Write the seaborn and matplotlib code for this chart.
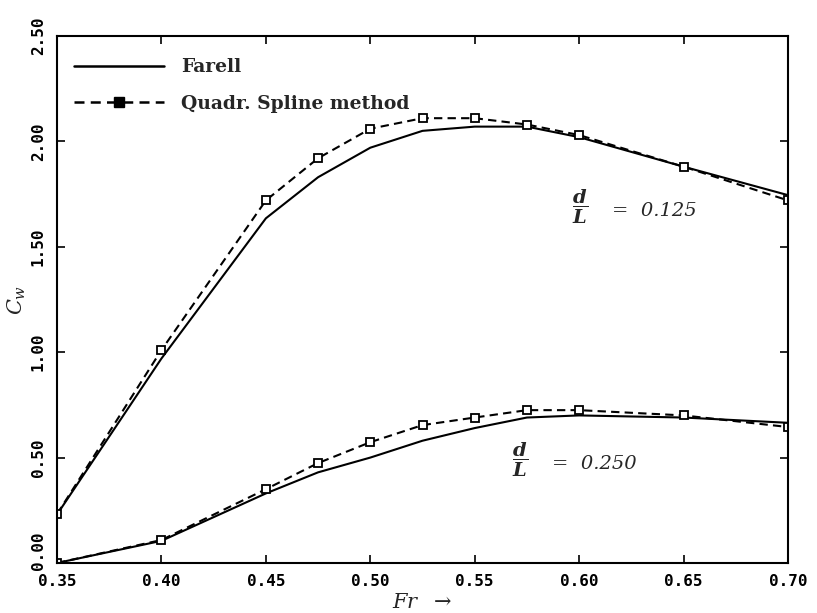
import pandas as pd
import matplotlib
matplotlib.use('Agg')
import matplotlib.pyplot as plt
import matplotlib.transforms as mtransforms
from matplotlib.lines import Line2D
import seaborn as sns

# 数据
fr = [0.35, 0.40, 0.45, 0.475, 0.50, 0.525, 0.55, 0.575, 0.60, 0.65, 0.70]
farell_0125 = [0.23, 0.97, 1.635, 1.83, 1.97, 2.05, 2.07, 2.07, 2.02, 1.88, 1.745]
spline_0125 = [0.232, 1.01, 1.72, 1.92, 2.06, 2.11, 2.11, 2.08, 2.03, 1.88, 1.72]
farell_0250 = [0.0, 0.105, 0.33, 0.43, 0.50, 0.58, 0.64, 0.69, 0.70, 0.69, 0.665]
spline_0250 = [0.0, 0.109, 0.35, 0.474, 0.573, 0.654, 0.69, 0.725, 0.725, 0.70, 0.645]

x_ticks = [0.35, 0.40, 0.45, 0.50, 0.55, 0.60, 0.65, 0.70]
y_ticks = [0.0, 0.5, 1.0, 1.5, 2.0, 2.5]
legend_labels = ['Farell', 'Quadr. Spline method']

sns.set_theme(style='ticks')
plt.rcParams['font.family'] = ['DejaVu Sans']
plt.rcParams['mathtext.fontset'] = 'custom'
plt.rcParams['mathtext.rm'] = 'DejaVu Serif'
plt.rcParams['mathtext.it'] = 'DejaVu Serif:italic'
plt.rcParams['mathtext.bf'] = 'DejaVu Serif:bold:italic'
plt.rcParams['axes.linewidth'] = 1.5


def make_df(values_a, values_b):
    rows = []
    for case, vals in (('0.125', values_a), ('0.250', values_b)):
        for x, y in zip(fr, vals):
            rows.append({'Fr': x, 'Cw': y, 'case': case})
    return pd.DataFrame(rows)


df_farell = make_df(farell_0125, farell_0250)
df_spline = make_df(spline_0125, spline_0250)

fig = plt.figure(figsize=(8.17, 6.13), dpi=100)
ax = fig.add_axes([0.0698, 0.0816, 0.8947, 0.8597])

sns.lineplot(data=df_farell, x='Fr', y='Cw', units='case', estimator=None,
             color='black', linewidth=1.5, ax=ax, legend=False)
sns.lineplot(data=df_spline, x='Fr', y='Cw', units='case', estimator=None,
             color='black', linewidth=1.5, dashes=False, ax=ax, legend=False,
             marker='s', markersize=6, markerfacecolor='white',
             markeredgecolor='black', markeredgewidth=1.3)
# 虚线样式
for line in ax.lines[2:]:
    line.set_dashes((4, 2.5))

ax.set_xlim(0.35, 0.70)
ax.set_ylim(0.0, 2.5)
ax.set_xticks(x_ticks)
ax.set_yticks(y_ticks)
ax.set_xticklabels([f'{v:.2f}' for v in x_ticks], family='DejaVu Sans Mono',
                   fontweight='bold', fontsize=11.5)
ax.set_yticklabels([f'{v:.2f}' for v in y_ticks], family='DejaVu Sans Mono',
                   fontweight='bold', fontsize=11.5, rotation=90, va='center')
ax.tick_params(direction='in', length=6, width=1.2, top=True, right=True,
               labeltop=False, labelright=False, pad=8, colors='black')
for s in ax.spines.values():
    s.set_color('black')

# 0.00 标签稍微上移，避免与 0.35 重叠
lab0 = ax.get_yticklabels()[0]
lab0.set_transform(lab0.get_transform() + mtransforms.ScaledTranslation(0, 12 / 100, fig.dpi_scale_trans))

ax.set_xlabel(r'$Fr\ \ \rightarrow$', fontsize=15, labelpad=2)
ax.set_ylabel(r'$C_w$', fontsize=15, labelpad=2)

# d/L 标注
for x0, y0, txt in ((0.5966, 1.69, '0.125'), (0.568, 0.49, '0.250')):
    ax.text(x0, y0, r'$\dfrac{\mathbf{d}}{\mathbf{L}}$', fontsize=14, ha='left', va='center')
    ax.text(x0 + 0.019, y0 - 0.02, '=  ' + txt, fontsize=14, ha='left', va='center',
            family='DejaVu Serif', style='italic')

handles = [
    Line2D([], [], color='black', linewidth=1.8),
    Line2D([], [], color='black', linewidth=1.8, dashes=(4, 2.5),
           marker='s', markersize=7, markerfacecolor='black', markeredgecolor='black'),
]
ax.legend(handles, legend_labels, loc='upper left', frameon=False,
          handlelength=4.8, handletextpad=0.9, labelspacing=1.0,
          bbox_to_anchor=(0.0, 0.99), borderaxespad=0.5,
          markerfirst=True, numpoints=1,
          prop={'family': 'DejaVu Serif', 'weight': 'bold', 'size': 13.5})

fig.savefig('out.png', dpi=100)
